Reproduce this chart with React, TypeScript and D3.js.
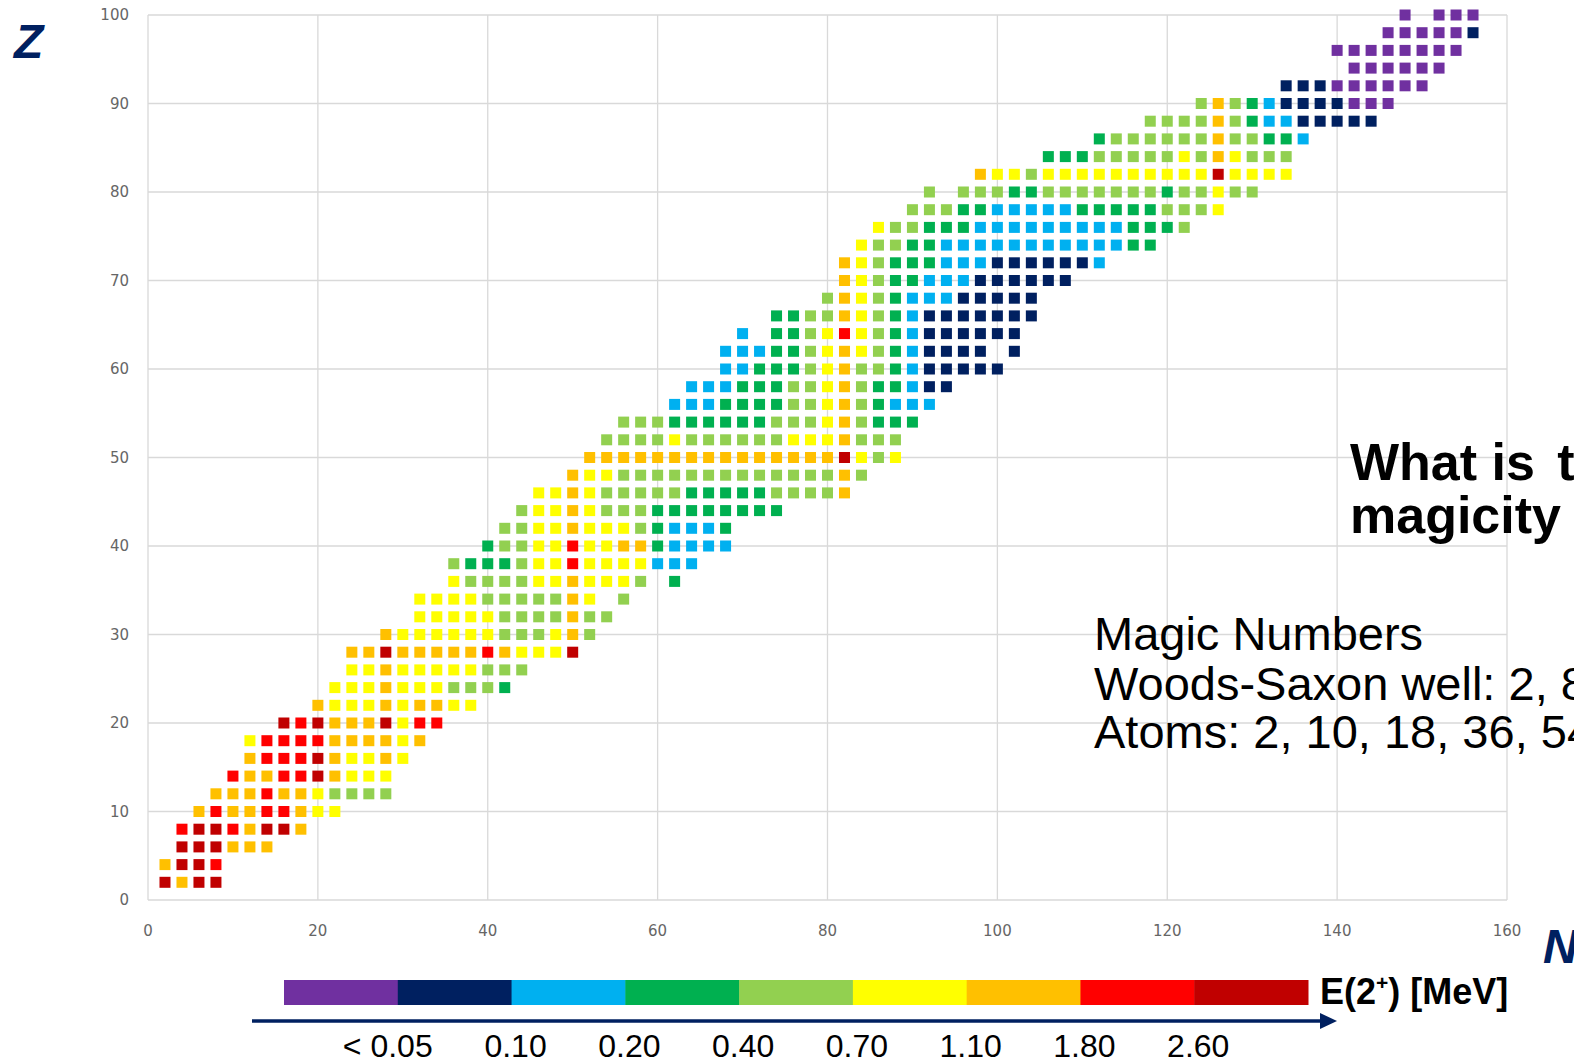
import React from 'react';
import * as d3 from 'd3';

// E(2+) energy classes (MeV), lowest to highest
const levelColors = ['#7030A0', '#002060', '#00B0F0', '#00B050', '#92D050', '#FFFF00', '#FFC000', '#FF0000', '#C00000'];
const levelCodes = 'PNSGLYORD';
const legendLabels = ['< 0.05', '0.10', '0.20', '0.40', '0.70', '1.10', '1.80', '2.60'];

const xTicks = [0, 20, 40, 60, 80, 100, 120, 140, 160];
const yTicks = [0, 10, 20, 30, 40, 50, 60, 70, 80, 90, 100];

// even-even nuclei: one row per proton number Z, neutrons from rowStartN in steps of 2
const rowZ = [2, 4, 6, 8, 10, 12, 14, 16, 18, 20, 22, 24, 26, 28, 30, 32, 34, 36, 38, 40, 42, 44, 46, 48, 50,
  52, 54, 56, 58, 60, 62, 64, 66, 68, 70, 72, 74, 76, 78, 80, 82, 84, 86, 88, 90, 92, 94, 96, 98, 100];
const rowStartN = [2, 2, 4, 4, 6, 8, 10, 12, 12, 16, 20, 22, 24, 24, 28, 32, 32, 36, 36, 40, 42, 44, 46, 50, 52,
  54, 56, 62, 64, 68, 68, 70, 74, 80, 82, 82, 84, 86, 90, 92, 98, 106, 112, 118, 124, 134, 142, 140, 146, 148];
const rowCodes = [
  'DODD',
  'ODDR',
  'DDDOOO',
  'RDDRODDO',
  'OROORROYY',
  'OOOROOYLLLL',
  'ROORRDOYYY',
  'ORRRDOYYOY',
  'YRRRROOOOYO',
  'DRDOOODYRR',
  'OYYYOYOOYY',
  'YYYOYYYLLLG',
  'YYOYYYYYLLL',
  'OODOOOOOROYYYD',
  'OYYYYYYLLLYOL',
  'YYYYYLLLLOLL',
  'YYYYLLLLLOY.L',
  'YLLLLYYOYYYL.G',
  'LGGGLYYRYYYYSSS',
  'GLLYYRYYOOGSSSS',
  'LLYYOYYYLGSSSG',
  'LYYOYLLLGGGGGGGG',
  'YYOYLLLLLGGGGGLLLLO',
  'OYYLLLLLLLLLLLLLOL',
  'OOOOOOOOOOOOOOODYLY',
  'LLLLYLLLLLLYYYOLLL',
  'LLLGGGGGGLLLYOLGGG',
  'SSSGGGGLLYOLGSSS',
  'SSSGGGLLYOLGGSNN',
  'SSGGGLYOLLGSNNNNN',
  'SSSGGLYOYLGSNNNN.N',
  'S.GGLYRYLGSNNNNNN',
  'GGLLOYLGSNNNNNNN',
  'LOYLGSSSNNNNN',
  'OYLGGSSSNNNNNN',
  'OYLGGGSSSNNNNNNS',
  'YLLGGSSSSSSSSSSSGG',
  'YLLGGGSSSSSSSSSGGGL',
  'LLLGGSSSSSGGGGGLLLY',
  'L.LLLGGLLLLLLLGLLYLL',
  'OYYLYYYYYYYYYYDYYYY',
  'GGGLLLLLYLOYLLL',
  'GLLLLLLOLLGGS',
  'LLLLOLGSSNNNNN',
  'LOLGSNNNNPPP',
  'NNNPPPPPP',
  'PPPPPP',
  'PPPPPPPP',
  'PPPPPN',
  'P.PPP',
];

const FONT = '"Liberation Sans", Arial, sans-serif';

export default function App() {
  const W = 1574;
  const H = 1063;
  const x = d3.scaleLinear().domain([0, 160]).range([148, 1507]);
  const y = d3.scaleLinear().domain([0, 100]).range([900, 15]);
  const sq = 11;

  const cells: { n: number; z: number; level: number }[] = [];
  rowZ.forEach((z, i) => {
    rowCodes[i].split('').forEach((c, j) => {
      if (c === '.') return;
      cells.push({ n: rowStartN[i] + 2 * j, z, level: levelCodes.indexOf(c) });
    });
  });

  const lx = d3.scaleLinear().domain([0, levelColors.length]).range([284, 1308]);
  const legendTop = 980;
  const legendH = 25;

  return (
    <svg width={W} height={H} style={{ position: 'absolute', left: 0, top: 0, background: '#fff' }}>
      <rect x={0} y={0} width={W} height={H} fill="#fff" />
      {/* grid */}
      <g stroke="#d9d9d9" strokeWidth={1.3}>
        {xTicks.map((t) => (
          <line key={'gx' + t} x1={x(t)} x2={x(t)} y1={y(100)} y2={y(0)} />
        ))}
        {yTicks.map((t) => (
          <line key={'gy' + t} x1={x(0)} x2={x(160)} y1={y(t)} y2={y(t)} />
        ))}
      </g>
      {/* tick labels */}
      <g fill="#666" fontFamily='"DejaVu Sans", sans-serif' fontSize={15}>
        {yTicks.map((t) => (
          <text key={'ty' + t} x={129} y={y(t)} textAnchor="end" dominantBaseline="central">
            {t}
          </text>
        ))}
        {xTicks.map((t) => (
          <text key={'tx' + t} x={x(t)} y={936} textAnchor="middle">
            {t}
          </text>
        ))}
      </g>
      {/* nuclei */}
      <g>
        {cells.map((c, i) => (
          <rect
            key={i}
            x={x(c.n) - sq / 2}
            y={y(c.z) - sq / 2}
            width={sq}
            height={sq}
            fill={levelColors[c.level]}
          />
        ))}
      </g>
      {/* axis titles */}
      <text x={14} y={58} fontFamily={FONT} fontWeight="bold" fontStyle="italic" fontSize={48} fill="#002060">
        Z
      </text>
      <text x={1543} y={963} fontFamily={FONT} fontWeight="bold" fontStyle="italic" fontSize={48} fill="#002060">
        N
      </text>
      {/* legend bar */}
      <g>
        {levelColors.map((c, i) => (
          <rect key={'lg' + i} x={lx(i)} y={legendTop} width={lx(i + 1) - lx(i) + 0.5} height={legendH} fill={c} />
        ))}
      </g>
      <text x={1320} y={1004} fontFamily={FONT} fontWeight="bold" fontSize={36} fill="#000">
        E(2<tspan fontSize={21} dy={-14}>+</tspan>
        <tspan dy={14}>) [MeV]</tspan>
      </text>
      {/* arrow */}
      <line x1={252} x2={1322} y1={1021} y2={1021} stroke="#002060" strokeWidth={3.5} />
      <path d="M1320,1013 L1337,1021 L1320,1029 Z" fill="#002060" />
      <g fontFamily={FONT} fontSize={32} fill="#000">
        {legendLabels.map((l, i) => (
          <text key={'ll' + i} x={lx(i + 1) + 4 - (i === 0 ? 14 : 0)} y={1057} textAnchor="middle">
            {l}
          </text>
        ))}
      </g>
      {/* slide text */}
      <g fontFamily={FONT} fill="#000">
        <text x={1350} y={480} fontSize={52} fontWeight="bold">
          What is <tspan dx={8}>the origin of</tspan>
        </text>
        <text x={1350} y={533} fontSize={52} fontWeight="bold">magicity in nuclei?</text>
        <text x={1094} y={650} fontSize={47}>Magic Numbers</text>
        <text x={1094} y={700} fontSize={47}>Woods-Saxon well: 2, 8, 20, 40, 70, 112</text>
        <text x={1094} y={748} fontSize={47}>Atoms: 2, 10, 18, 36, 54, 86</text>
      </g>
    </svg>
  );
}
